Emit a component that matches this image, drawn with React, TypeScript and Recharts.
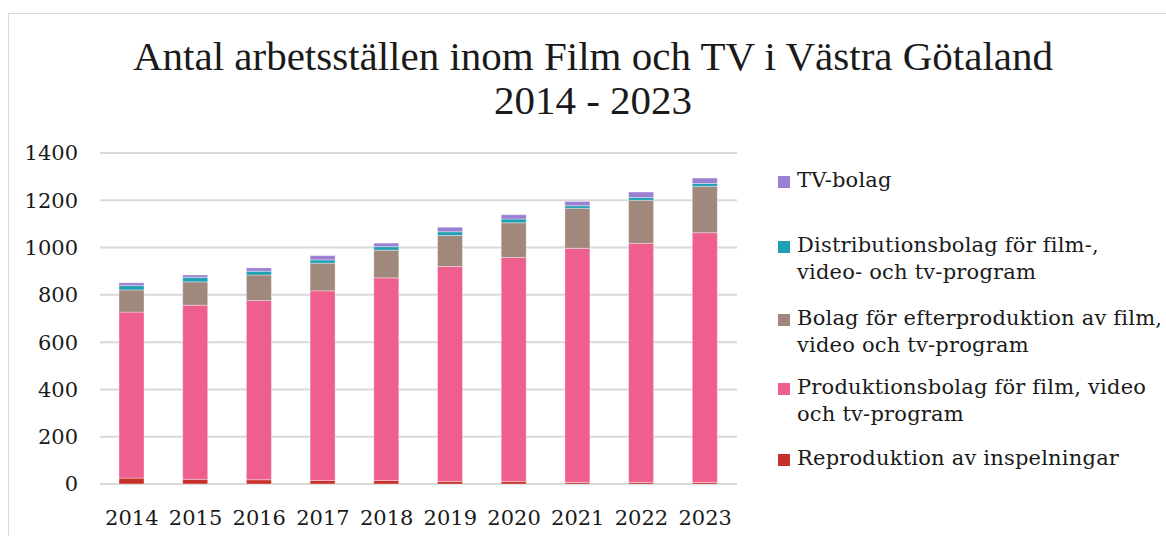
import React from 'react';
import { BarChart, Bar, XAxis, YAxis, CartesianGrid } from 'recharts';

const years = ['2014', '2015', '2016', '2017', '2018', '2019', '2020', '2021', '2022', '2023'];

// stacked from bottom to top
const reproduktion = [25, 20, 18, 15, 15, 11, 11, 7, 7, 7];
const produktion = [702, 736, 758, 802, 857, 909, 947, 990, 1011, 1056];
const efterproduktion = [94, 99, 108, 117, 117, 131, 147, 169, 182, 196];
const distribution = [18, 19, 16, 14, 15, 16, 16, 11, 12, 12];
const tvBolag = [12, 10, 14, 18, 15, 19, 18, 18, 23, 23];

const yTicks = [0, 200, 400, 600, 800, 1000, 1200, 1400];

const series = [
  { key: 'repro', name: 'Reproduktion av inspelningar', color: '#c8302c', values: reproduktion },
  { key: 'prod', name: 'Produktionsbolag för film, video\noch tv-program', color: '#ee5f8d', values: produktion },
  { key: 'efter', name: 'Bolag för efterproduktion av film,\nvideo och tv-program', color: '#a0887c', values: efterproduktion },
  { key: 'distr', name: 'Distributionsbolag för film-,\nvideo- och tv-program', color: '#20a0b2', values: distribution },
  { key: 'tv', name: 'TV-bolag', color: '#9b7fd2', values: tvBolag },
];

const data = years.map((year, i) => {
  const row: Record<string, string | number> = { year };
  series.forEach((s) => { row[s.key] = s.values[i]; });
  return row;
});

const serif = '"DejaVu Serif", Georgia, serif';
const textColor = '#1a1a1a';

// legend entries listed top to bottom, with their top offsets
const legendTops = [167, 232, 305, 374, 445];

const LegendBox = () => (
  <div style={{ position: 'absolute', left: 778, top: 0, width: 390, fontFamily: serif, fontSize: 21, color: textColor }}>
    {[...series].reverse().map((s, i) => (
      <div key={s.key} style={{ position: 'absolute', left: 0, top: legendTops[i], display: 'flex', alignItems: 'flex-start' }}>
        <div style={{ width: 12, height: 12, background: s.color, marginTop: 9, marginRight: 7, flexShrink: 0 }} />
        <div style={{ whiteSpace: 'pre', lineHeight: '27px', textAlign: 'left', letterSpacing: 0.2 }}>{s.name}</div>
      </div>
    ))}
  </div>
);

export default function App() {
  return (
    <div style={{ position: 'fixed', left: 0, top: 0, width: 1166, height: 536, background: '#fff', overflow: 'hidden' }}>
      <div style={{ position: 'absolute', left: 8, top: 13, width: 1300, height: 700, border: '1px solid #d9d9d9' }} />
      <div style={{
        position: 'absolute', left: 0, top: 34, width: 1186, textAlign: 'center',
        fontFamily: '"Liberation Serif", "Times New Roman", serif', fontSize: 41, lineHeight: '44px', color: textColor,
      }}>
        Antal arbetsställen inom Film och TV i Västra Götaland<br />2014 - 2023
      </div>
      <div style={{ position: 'absolute', left: 0, top: 0 }}>
        <BarChart width={1166} height={536} data={data} margin={{ top: 153, right: 429, left: 0, bottom: 12 }} barSize={25}>
          <CartesianGrid vertical={false} stroke="#d9d9d9" strokeWidth={2} />
          <XAxis dataKey="year" axisLine={false} tickLine={false} tickSize={0} tickMargin={26} height={40}
            tick={{ fill: textColor, fontSize: 21, fontFamily: serif }} interval={0} />
          <YAxis type="number" domain={[0, 1400]} ticks={yTicks} axisLine={false} tickLine={false} tickSize={0}
            tickMargin={22} width={100} tick={{ fill: textColor, fontSize: 21, fontFamily: serif }} />
          {series.map((s) => (
            <Bar key={s.key} dataKey={s.key} name={s.name} stackId="a" fill={s.color}
              stroke="#ffffff" strokeWidth={0.6} strokeOpacity={0.6} isAnimationActive={false} />
          ))}
        </BarChart>
      </div>
      <LegendBox />
    </div>
  );
}
